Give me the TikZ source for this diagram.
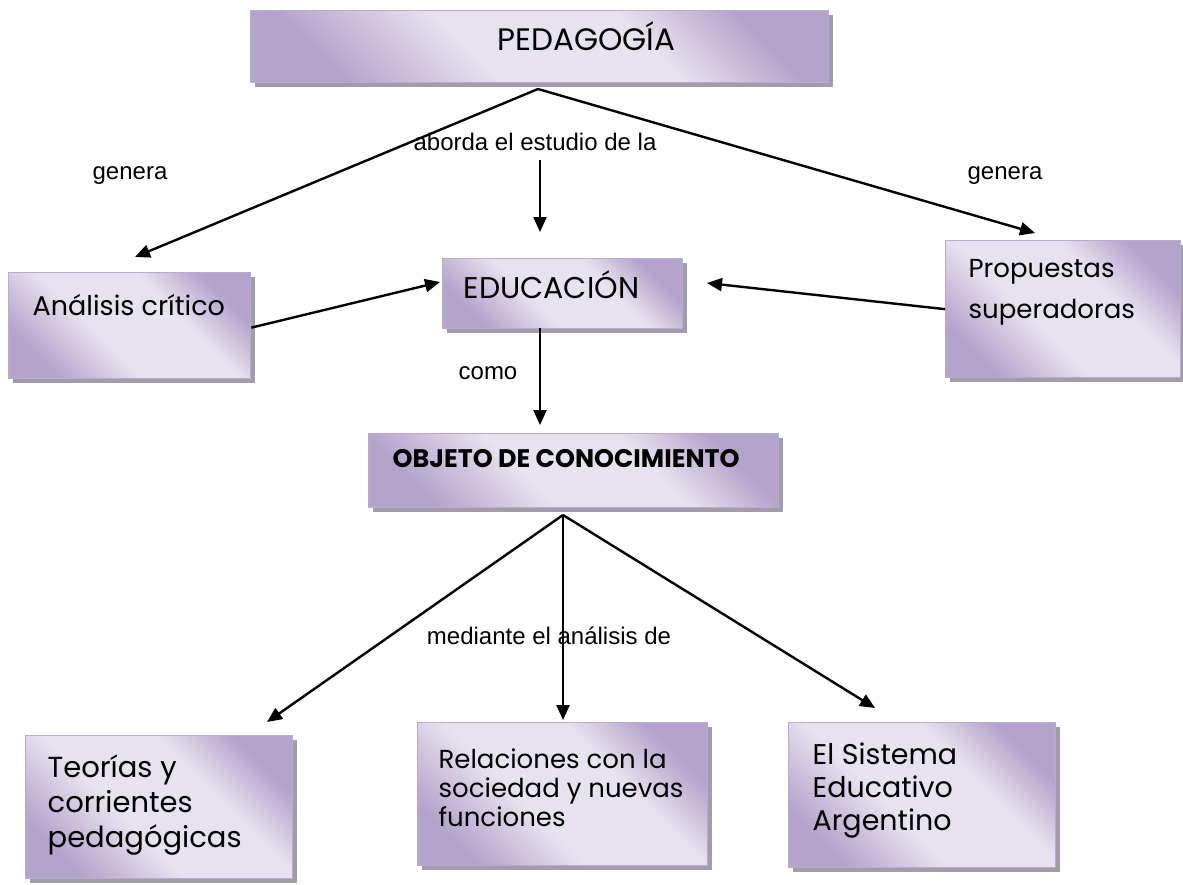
\documentclass[tikz,border=0pt]{standalone}
\usepackage{fontspec}
\setmainfont{Liberation Sans}
\newfontfamily\gothic{Poppins}
\usetikzlibrary{arrows.meta,shadows}
\definecolor{lavD}{HTML}{B4A4CC}
\definecolor{lavL}{HTML}{E7E2EF}
\definecolor{lavB}{HTML}{BBAAD3}
\definecolor{shadowc}{HTML}{A29CA9}
\pgfdeclarehorizontalshading{lav}{100bp}{color(0bp)=(lavD); color(25bp)=(lavD); color(42bp)=(lavL); color(62bp)=(lavL); color(75bp)=(lavD); color(100bp)=(lavD)}
\newcommand\btxt[6]{\parbox[c][#2][t]{#1}{\fontsize{#6}{34}\selectfont\leftskip=#3\relax\rightskip=0pt plus 1fil\relax\parindent=0pt\rule{0pt}{#4}#5\par}}
\begin{document}
\begin{tikzpicture}[x=1pt,y=-1pt,
  box/.style={draw=lavB, line width=1.3pt, shading=lav, shading angle=45,
    drop shadow={shadow xshift=4pt, shadow yshift=-4pt, fill=shadowc, opacity=1},
    inner sep=0pt, anchor=north west, font=\gothic},
  conn/.style={line width=2.4pt, -{Triangle[length=15pt,width=13pt]}},
  lbl/.style={font=\fontsize{24}{28}\selectfont, inner sep=0pt}]
\useasboundingbox (0,0) rectangle (1183,884);
% boxes
\node[box] (ped) at (250,10) {\btxt{578pt}{72pt}{247pt}{40pt}{PEDAGOGÍA}{31}};
\node[box] (ana) at (8,272) {\btxt{242pt}{106pt}{24pt}{43pt}{Análisis crítico}{27}};
\node[box] (edu) at (442,258) {\btxt{240pt}{70pt}{21pt}{40pt}{EDUCACIÓN}{30}};
\node[box] (prop) at (945,240) {\btxt{235pt}{137pt}{23pt}{37pt}{\baselineskip=41pt Propuestas\\superadoras}{26}};
\node[box] (obj) at (368,433) {\btxt{410pt}{74pt}{24pt}{34pt}{\bfseries OBJETO DE CONOCIMIENTO}{25.4}};
\node[box] (teo) at (25,735) {\btxt{267pt}{143pt}{22pt}{42pt}{\baselineskip=35pt Teorías y\\corrientes\\pedagógicas}{29}};
\node[box] (rel) at (417,722) {\btxt{290pt}{143pt}{21pt}{46pt}{\baselineskip=29pt Relaciones con la\\sociedad y nuevas\\funciones}{26}};
\node[box] (sis) at (788,722) {\btxt{267pt}{145pt}{24pt}{42pt}{\baselineskip=33pt El Sistema\\Educativo\\Argentino}{28.5}};
% junction points and free ends
\coordinate (apexA) at (538,89);
\coordinate (tipA) at (135,257);
\coordinate (tipP) at (1035,233);
\coordinate (vstart) at (540,160);
\coordinate (vtip) at (540,232);
\coordinate (tipE1) at (440,282);
\coordinate (tipE2) at (707,283);
\coordinate (eduB) at (540,328);
\coordinate (tipO) at (540,425);
\coordinate (apexB) at (563,515);
\coordinate (tipT) at (267,722);
\coordinate (tipR) at (563,720);
\coordinate (tipS) at (875,708);
% connectors
\draw[conn] (apexA) -- (tipA);
\draw[conn] (apexA) -- (tipP);
\draw[conn] (vstart) -- (vtip);
\draw[conn] (ana.east) ++(0,2) -- (tipE1);
\draw[conn] (prop.west) -- (tipE2);
\draw[conn] (eduB) -- (tipO);
\draw[conn] (apexB) -- (tipT);
\draw[conn] (apexB) -- (tipR);
\draw[conn] (apexB) -- (tipS);
% labels
\node[lbl] (g1) at (130,176) {genera};
\node[lbl] (g2) at (1005,176) {genera};
\node[lbl] (ab) at (535,142) {aborda el estudio de la};
\node[lbl] (como) at (488,373) {como};
\node[lbl] (med) at (549,636) {mediante el análisis de};
\end{tikzpicture}
\end{document}
